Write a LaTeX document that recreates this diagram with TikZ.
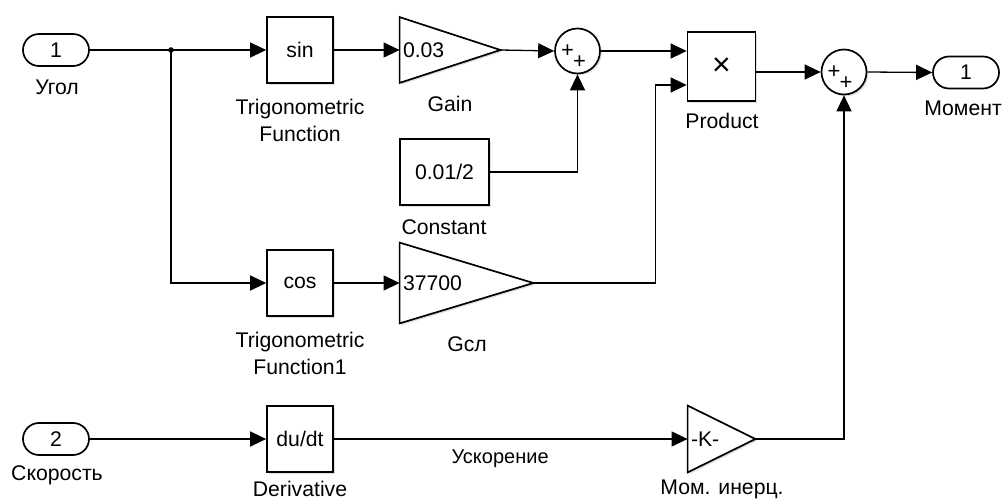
\documentclass[tikz,border=0pt]{standalone}
\usepackage{fontspec}
\setmainfont{Liberation Sans}
\usetikzlibrary{arrows.meta,positioning,calc,shadows}

\begin{document}
\begin{tikzpicture}[x=0.5pt,y=-0.5pt,
    font=\fontsize{10.6}{13.5}\selectfont,
    wire/.style={line width=0.65pt},
    sig/.style={wire,-{Triangle[length=8pt,width=7.5pt]}},
    blk/.style={draw,line width=0.85pt,fill=white,inner sep=0pt,
      drop shadow={shadow xshift=0.9pt,shadow yshift=-0.9pt,opacity=0.25}},
    port/.style={draw,line width=0.85pt,rounded corners=8pt,
      minimum width=33pt,minimum height=16pt,inner sep=0pt},
    sumnode/.style={blk,circle,minimum size=22.5pt},
    plus/.style={font=\fontsize{11}{11}\selectfont,inner sep=0pt},
    tag/.style={align=center,inner sep=0pt}]
    \useasboundingbox (0,0) rectangle (1006,502);

    % Inputs
    \node[port] (in1) at (56,50) {1};
    \node[tag] (in1lbl) at (57,87) {Угол};
    \node[port] (in2) at (56,439) {2};
    \node[tag] (in2lbl) at (57,475) {Скорость};
    \node[circle,fill,inner sep=0pt,minimum size=2.8pt] (split) at (171,50) {};

    % Trigonometric functions
    \node[blk,minimum width=33pt,minimum height=33pt] (sin) at (300,50) {sin};
    \node[tag] (sinlbl) at (300,120) {Trigonometric\\Function};
    \node[blk,minimum width=33pt,minimum height=33pt] (cos) at (300,283) {cos};
    \node[tag] (coslbl) at (300,353) {Trigonometric\\Function1};

    % Gain 0.03
    \node[inner sep=0pt,minimum width=50pt,minimum height=32.5pt] (gain) at (450,50) {};
    \draw[blk] (gain.north west) -- (gain.east) -- (gain.south west) -- cycle;
    \node[anchor=west,inner sep=1.5pt] (gaintxt) at (gain.west) {0.03};
    \node[tag] (gainlbl) at (450,104) {Gain};

    % Constant
    \node[blk,minimum width=44.5pt,minimum height=33pt] (const) at (444.5,172) {0.01/2};
    \node[tag] (constlbl) at (444,227) {Constant};

    % Gain Gcl
    \node[inner sep=0pt,minimum width=66.5pt,minimum height=40pt] (gcl) at (466.5,283) {};
    \draw[blk] (gcl.north west) -- (gcl.east) -- (gcl.south west) -- cycle;
    \node[anchor=west,inner sep=1.5pt] (gcltxt) at (gcl.west) {37700};
    \node[tag] (gcllbl) at (467,344) {Gсл};

    % Sums
    \node[sumnode] (sum1) at (577.5,51) {};
    \node[plus] at ([shift={(-10,0)}]sum1.center) {+};
    \node[plus] at ([shift={(2,11)}]sum1.center) {+};
    \node[sumnode] (sum2) at (844,72) {};
    \node[plus] at ([shift={(-10,0)}]sum2.center) {+};
    \node[plus] at ([shift={(2,11)}]sum2.center) {+};

    % Product
    \node[blk,minimum width=34pt,minimum height=34.5pt,font=\fontsize{16}{16}\selectfont]
      (prod) at (721.5,66.5) {×};
    \node[tag] (prodlbl) at (722,121) {Product};
    \coordinate (prodin1) at (prod.west |- sum1.east);
    \coordinate (prodin2) at ([yshift=-9.25pt]prod.west);

    % Derivative and moment of inertia
    \node[blk,minimum width=33pt,minimum height=33pt] (deriv) at (300,439) {du/dt};
    \node[tag] (derivlbl) at (300,489) {Derivative};
    \node[inner sep=0pt,minimum width=33.5pt,minimum height=33pt] (momk) at (721.5,439) {};
    \draw[blk] (momk.north west) -- (momk.east) -- (momk.south west) -- cycle;
    \node[anchor=west,inner sep=1.5pt] (momktxt) at (momk.west) {-K-};
    \node[tag] (momklbl) at (722,489) {Мом. инерц.};

    % Output
    \node[port] (out1) at (966,72.5) {1};
    \node[tag] (out1lbl) at (963,108) {Момент};

    % Signals
    \draw[wire] (in1.east) -- (split.center);
    \draw[sig] (split.center) -- (sin.west);
    \draw[sig] (split.center) |- (cos.west);
    \draw[sig] (sin.east) -- (gain.west);
    \draw[sig] (gain.east) -- (sum1.west);
    \draw[sig] (const.east) -| (sum1.south);
    \draw[sig] (sum1.east) -- (prodin1);
    \draw[sig] (cos.east) -- (gcl.west);
    \draw[sig] (gcl.east) -- ++(122,0) |- (prodin2);
    \draw[sig] (prod.east |- sum2.west) -- (sum2.west);
    \draw[sig] (sum2.east) -- (out1.west);
    \draw[sig] (in2.east) -- (deriv.west);
    \draw[sig] (deriv.east) -- node[tag,pos=0.47,below=5pt,font=\fontsize{10}{12}\selectfont] (acc) {Ускорение} (momk.west);
    \draw[sig] (momk.east) -| (sum2.south);
  \end{tikzpicture}
\end{document}
